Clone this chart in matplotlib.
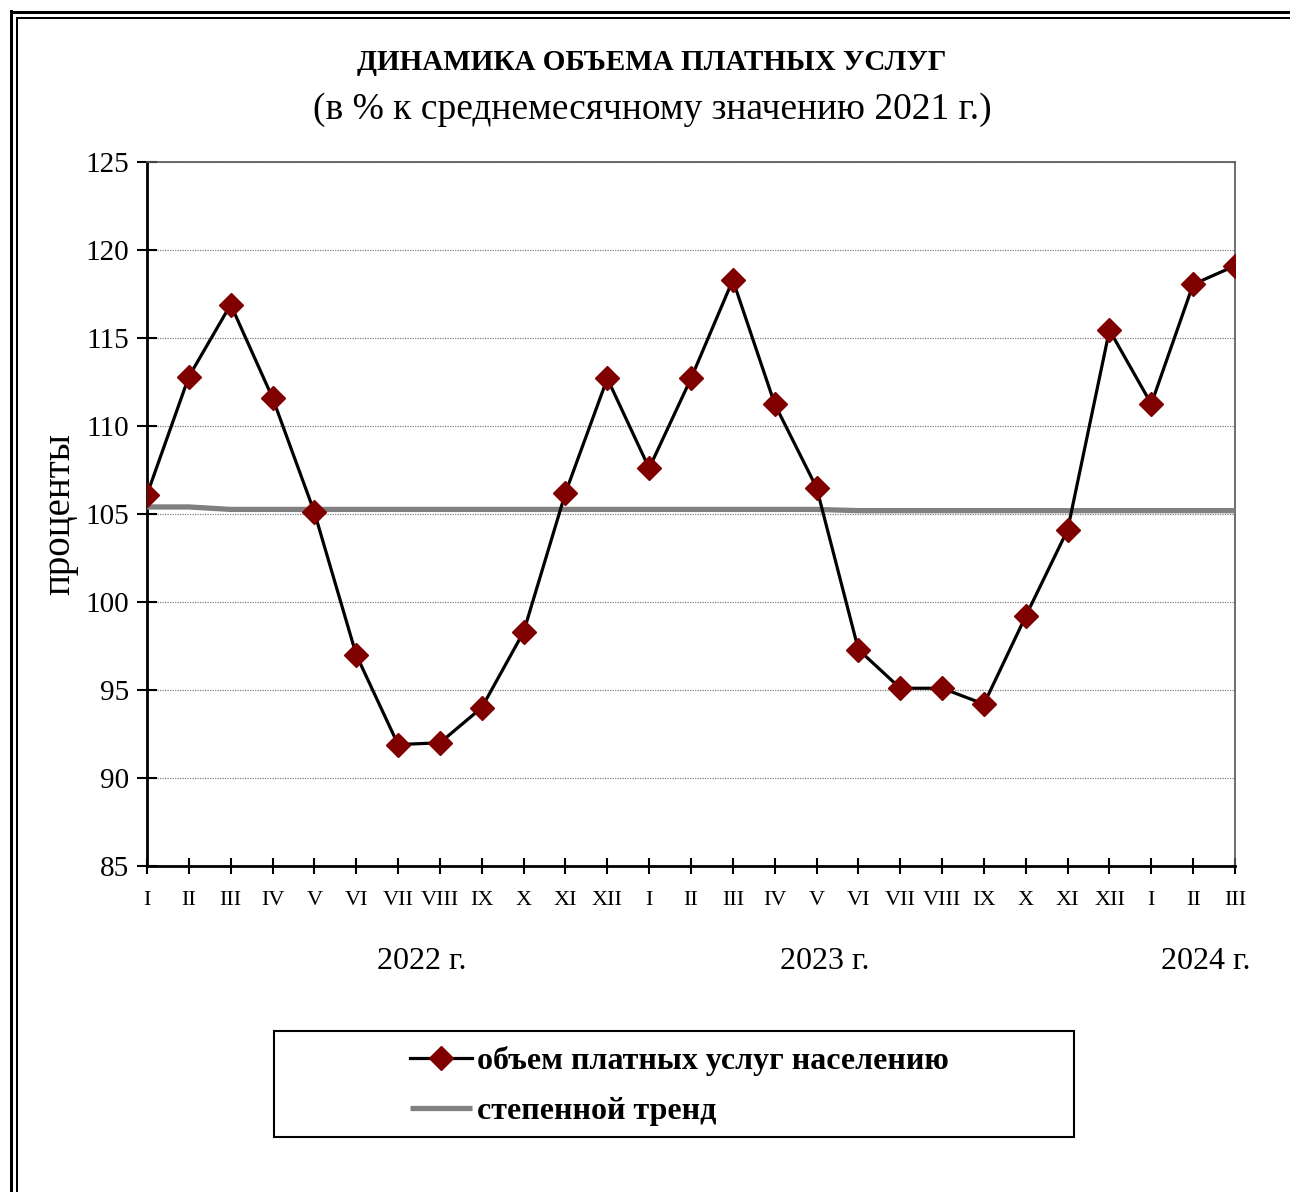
import numpy as np
import matplotlib; matplotlib.use("Agg")
import matplotlib.pyplot as plt
from matplotlib.lines import Line2D
from matplotlib.patches import Rectangle

# month labels, 2022-I .. 2024-III
months = ["I", "II", "III", "IV", "V", "VI", "VII", "VIII", "IX", "X", "XI", "XII",
          "I", "II", "III", "IV", "V", "VI", "VII", "VIII", "IX", "X", "XI", "XII",
          "I", "II", "III"]
services = [106.1, 112.8, 116.9, 111.6, 105.1, 97.0, 91.9, 92.0, 94.0, 98.3, 106.2, 112.7,
            107.6, 112.7, 118.3, 111.25, 106.5, 97.3, 95.1, 95.1, 94.2, 99.2, 104.1, 115.45,
            111.25, 118.05, 119.1]
trend = [105.40, 105.40, 105.26, 105.26, 105.26, 105.26, 105.26, 105.26, 105.26, 105.26,
         105.26, 105.26, 105.26, 105.26, 105.26, 105.26, 105.26, 105.19, 105.19, 105.19,
         105.19, 105.19, 105.19, 105.19, 105.19, 105.19, 105.19]
years = ["2022 г.", "2023 г.", "2024 г."]
year_pos = [6.57, 16.2, 25.3]

plt.rcParams["font.family"] = ["Liberation Serif", "DejaVu Serif"]

W, H = 1290, 1192
fig = plt.figure(figsize=(W / 100, H / 100), dpi=100)
ax = fig.add_axes([147 / W, 1 - 866 / H, (1235 - 147) / W, (866 - 162) / H])

x = np.arange(len(months))
ax.plot(x, trend, color="#808080", lw=3.8, solid_capstyle="butt", zorder=3, label="степенной тренд")
ax.plot(x, services, color="black", lw=2.3, marker="D", ms=12.5, mfc="#800000", mec="#800000",
        zorder=4, label="объем платных услуг населению")

ax.set_xlim(0, len(months) - 1)
ax.set_ylim(85, 125)
ax.set_yticks(np.arange(85, 126, 5))
ax.set_xticks(x)
ax.set_xticklabels(months, fontsize=16)
ax.tick_params(axis="y", labelsize=21, direction="inout", length=14, width=1.5, pad=6)
ax.tick_params(axis="x", direction="inout", length=12, width=1.5, pad=12)
ax.grid(axis="y", color="#808080", ls=(0, (1, 1)), lw=0.9)
ax.spines["left"].set_linewidth(2)
ax.spines["bottom"].set_linewidth(2)
ax.spines["top"].set_linewidth(1.2); ax.spines["top"].set_color("#555555")
ax.spines["right"].set_linewidth(1.2); ax.spines["right"].set_color("#555555")
ax.set_ylabel("проценты", fontsize=28, labelpad=5)

for yr, p in zip(years, year_pos):
    ax.text(p, -0.135, yr, transform=ax.get_xaxis_transform(), ha="center", va="center", fontsize=23)

fig.text(652 / W, 1 - 63 / H, "ДИНАМИКА ОБЪЕМА ПЛАТНЫХ УСЛУГ", ha="center", va="center",
         fontsize=21, fontweight="bold")
fig.text(652 / W, 1 - 110 / H, "(в % к среднемесячному значению 2021 г.)", ha="center", va="center",
         fontsize=27)

h, l = ax.get_legend_handles_labels()
leg = fig.legend(h[::-1], l[::-1], loc="center", bbox_to_anchor=(679 / W, 1 - 1086 / H),
                 frameon=False, prop={"size": 23, "weight": "bold"},
                 handlelength=1.95, handletextpad=0.15, labelspacing=0.64, borderaxespad=0)
fig.add_artist(Rectangle((274 / W, 1 - 1137 / H), (1074 - 274) / W, (1137 - 1031) / H,
                         transform=fig.transFigure, fill=False, edgecolor="black", lw=1.5))

# double border at top and left
for xs, ys, lw in [([11 / W, 11 / W], [0, 1 - 11 / H], 3), ([11 / W, 1], [1 - 12 / H, 1 - 12 / H], 3),
                   ([17 / W, 17 / W], [0, 1 - 18 / H], 2), ([17 / W, 1], [1 - 18 / H, 1 - 18 / H], 2)]:
    fig.add_artist(Line2D(xs, ys, color="black", lw=lw * 0.72, transform=fig.transFigure))

fig.savefig("out.png", dpi=100)
